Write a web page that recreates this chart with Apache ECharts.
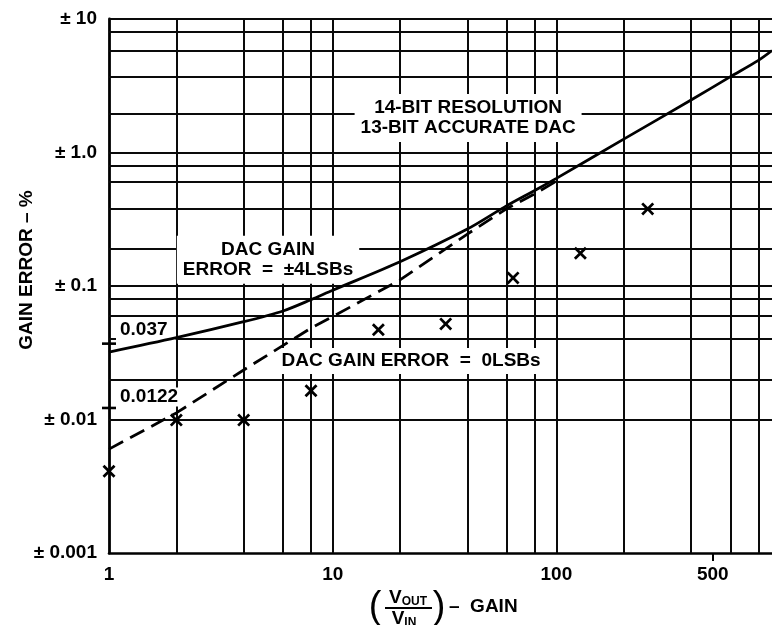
<!DOCTYPE html>
<html><head><meta charset="utf-8">
<script src="https://cdn.jsdelivr.net/npm/echarts@6/dist/echarts.min.js"></script>
<style>html,body{margin:0;padding:0;background:#fff}#c{width:772px;height:625px}</style>
</head><body><div id="c"></div>
<script>
const FONT = '"Liberation Sans", Arial, Helvetica, sans-serif';
// tick labels
const xTickValues = [1, 10, 100, 500];
const xTickLabels = ['1', '10', '100', '500'];
const yTickValues = [0.001, 0.01, 0.1, 1, 10];
const yTickLabels = ['± 0.001', '± 0.01', '± 0.1', '± 1.0', '± 10'];
// graph-paper rulings
const xGridValues = [2, 4, 6, 8, 10, 20, 40, 60, 80, 100, 200, 400, 600, 800];
const yGridValues = [10, 8, 5.8, 3.7, 1.95, 1, 0.8, 0.6, 0.38, 0.186, 0.1, 0.08, 0.06, 0.04, 0.02, 0.01, 0.008, 0.006, 0.004, 0.002];
// DAC gain error = ±4LSBs (solid)
const lsb4Gain = [1, 2, 4, 6, 8, 10, 20, 40, 60, 80, 100, 200, 400, 600, 800, 920];
const lsb4Error = [0.032, 0.041, 0.054, 0.065, 0.079, 0.093, 0.152, 0.267, 0.40, 0.52, 0.64, 1.26, 2.47, 3.7, 4.9, 5.8];
// DAC gain error = 0LSBs (dashed)
const lsb0Gain = [1, 2, 4, 8, 10, 20, 40, 60, 80, 100];
const lsb0Error = [0.006, 0.0112, 0.0235, 0.0484, 0.059, 0.111, 0.245, 0.38, 0.49, 0.61];
// measured points (x)
const measGain = [1, 2, 4, 8, 16, 32, 64, 128, 256];
const measError = [0.0041, 0.0099, 0.0099, 0.0164, 0.047, 0.052, 0.115, 0.176, 0.378];
// marked values on the y axis
const axisMarkValues = [0.037, 0.0122];
const axisMarkLabels = ['0.037', '0.0122'];

function pick(v, vals, labels) {
  for (let i = 0; i < vals.length; i++) {
    if (Math.abs(Math.log10(v) - Math.log10(vals[i])) < 1e-4) return labels[i];
  }
  return '';
}
const zip = (a, b) => a.map((v, i) => [v, b[i]]);
const txt = {color: '#000', fontFamily: FONT, fontWeight: 'bold', fontSize: 19};

const chart = echarts.init(document.getElementById('c'), null, {renderer: 'canvas'});
chart.setOption({
  animation: false,
  backgroundColor: '#fff',
  grid: {left: 109, right: 0, top: 19, bottom: 72, outerBoundsMode: 'none'},
  xAxis: {
    type: 'log', logBase: 10, min: 1, max: 920,
    axisLine: {show: true, onZero: false, lineStyle: {color: '#000', width: 2.6}},
    axisTick: {show: true, customValues: [500], length: 8, lineStyle: {color: '#000', width: 2}},
    axisLabel: Object.assign({customValues: xTickValues, margin: 12,
      formatter: v => pick(v, xTickValues, xTickLabels)}, txt),
    splitLine: {show: false}, minorTick: {show: false}, minorSplitLine: {show: false}
  },
  yAxis: {
    type: 'log', logBase: 10, min: 0.001, max: 10,
    axisLine: {show: true, onZero: false, lineStyle: {color: '#000', width: 2.8}},
    axisTick: {show: false},
    axisLabel: Object.assign({margin: 12, formatter: v => pick(v, yTickValues, yTickLabels)}, txt),
    splitLine: {show: false}
  },
  graphic: [
    {type: 'text', x: 27, y: 270, rotation: Math.PI / 2,
      style: {text: 'GAIN ERROR – %', fill: '#000', font: 'bold 19px ' + FONT, align: 'center', verticalAlign: 'middle'}},
    {type: 'text', x: 375, y: 608,
      style: {text: '(', fill: '#000', font: '38px ' + FONT, align: 'center', verticalAlign: 'middle'}},
    {type: 'text', x: 408, y: 598,
      style: {text: '{a|V}{b|OUT}', fill: '#000', align: 'center', verticalAlign: 'middle',
        rich: {a: {font: 'bold 19px ' + FONT, fill: '#000'}, b: {font: 'bold 12px ' + FONT, fill: '#000', verticalAlign: 'bottom'}}}},
    {type: 'line', shape: {x1: 385, y1: 608, x2: 432, y2: 608}, style: {stroke: '#000', lineWidth: 2}},
    {type: 'text', x: 404, y: 619,
      style: {text: '{a|V}{b|IN}', fill: '#000', align: 'center', verticalAlign: 'middle',
        rich: {a: {font: 'bold 19px ' + FONT, fill: '#000'}, b: {font: 'bold 12px ' + FONT, fill: '#000', verticalAlign: 'bottom'}}}},
    {type: 'text', x: 439, y: 608,
      style: {text: ')', fill: '#000', font: '38px ' + FONT, align: 'center', verticalAlign: 'middle'}},
    {type: 'text', x: 449, y: 607,
      style: {text: '–  GAIN', fill: '#000', font: 'bold 19px ' + FONT, align: 'left', verticalAlign: 'middle'}}
  ],
  series: [
    {
      name: 'rulings', type: 'line', data: [], z: 1, silent: true,
      markLine: {
        z: 1, silent: true, symbol: ['none', 'none'], animation: false,
        label: {show: false},
        lineStyle: {type: 'solid', color: '#0a0a0a', width: 2},
        emphasis: {disabled: true},
        data: xGridValues.map(v => ({xAxis: v})).concat(yGridValues.map(v => ({yAxis: v})))
      }
    },
    {
      name: 'annotations', type: 'scatter', z: 3, symbolSize: 0, silent: true,
      itemStyle: {opacity: 1, color: '#000'},
      label: Object.assign({show: true, position: 'inside', backgroundColor: '#fff',
        padding: [4, 6], lineHeight: 20, align: 'center', textBorderWidth: 0}, txt),
      data: [
        {value: [40.3, 1.81], label: {formatter: '14-BIT RESOLUTION\n13-BIT ACCURATE DAC'}},
        {value: [5.14, 0.157], label: {formatter: 'DAC GAIN\nERROR  =  ±4LSBs'}},
        {value: [22.4, 0.0274], label: {formatter: 'DAC GAIN ERROR  =  0LSBs', padding: [3, 5]}}
      ]
    },
    {
      name: 'axis marks', type: 'scatter', z: 3, silent: true,
      symbol: 'rect', symbolSize: [14, 2.6], itemStyle: {color: '#000', opacity: 1},
      label: Object.assign({show: true, position: 'right', distance: 0, backgroundColor: '#fff',
        lineHeight: 19, formatter: p => axisMarkLabels[p.dataIndex]}, txt),
      data: axisMarkValues.map((v, i) => ({value: [1, v],
        label: i === 0 ? {offset: [0, -14], padding: [0, 8, 4, 4]} : {offset: [0, -11], padding: [0, 2, 0, 4]}}))
    },
    {
      name: 'DAC GAIN ERROR = ±4LSBs', type: 'line', z: 4, smooth: 0.3, showSymbol: false, silent: true,
      lineStyle: {color: '#000', width: 2.8},
      data: zip(lsb4Gain, lsb4Error)
    },
    {
      name: 'DAC GAIN ERROR = 0LSBs', type: 'line', z: 4, showSymbol: false, silent: true,
      lineStyle: {color: '#000', width: 2.8, type: [16, 8]},
      data: zip(lsb0Gain, lsb0Error)
    },
    {
      name: 'measured', type: 'scatter', z: 5, silent: true,
      symbol: 'path://M0,1.5L1.5,0L5,3.5L8.5,0L10,1.5L6.5,5L10,8.5L8.5,10L5,6.5L1.5,10L0,8.5L3.5,5Z',
      symbolSize: 13, itemStyle: {color: '#000', opacity: 1},
      data: zip(measGain, measError)
    }
  ]
});
</script>
</body></html>
